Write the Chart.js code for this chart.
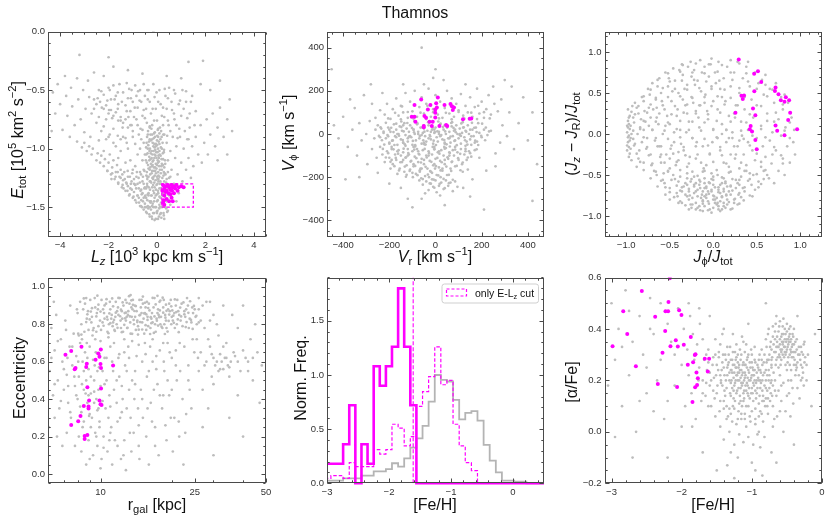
<!DOCTYPE html>
<html><head><meta charset="utf-8">
<script src="https://cdn.jsdelivr.net/npm/chart.js@4.4.1/dist/chart.umd.min.js"></script>
<style>
html,body{margin:0;padding:0;background:#fff;}
#wrap{position:relative;width:830px;height:520px;overflow:hidden;}
#wrap canvas{position:absolute;left:0;top:0;}
</style></head><body><div id="wrap"></div>
<script>
// ---------------- DATA ----------------
// Panel 1: E_tot [1e5 km2/s2] vs Lz [1e3 kpc km/s]
const p1Core = [[-0.12,-0.87],[0.05,-0.9],[-0.3,-0.92],[-0.18,-0.95],[0.1,-0.96],[-0.05,-0.98],[-0.38,-1.0],[0.2,-1.0],[-0.22,-1.02],[0.02,-1.03],[-0.1,-1.05],[0.15,-1.06],[-0.32,-1.07],[-0.02,-1.08],[0.25,-1.09],[-0.15,-1.1],[0.08,-1.11],[-0.42,-1.12],[-0.25,-1.13],[0.0,-1.14],[0.18,-1.15],[-0.08,-1.16],[-0.35,-1.17],[0.12,-1.18],[-0.2,-1.19],[0.28,-1.2],[-0.04,-1.21],[-0.28,-1.22],[0.06,-1.23],[-0.14,-1.24],[0.22,-1.25],[-0.4,-1.26],[-0.06,-1.27],[0.14,-1.28],[-0.24,-1.29],[0.02,-1.3],[-0.16,-1.31],[0.26,-1.32],[-0.34,-1.33],[0.1,-1.34],[-0.2,-0.88],[0.0,-0.93],[-0.1,-0.99],[0.1,-1.02],[-0.26,-1.04],[-0.06,-1.06],[0.04,-1.12],[-0.18,-1.14],[-0.12,-1.19],[0.16,-1.21],[-0.32,-1.1],[-0.02,-1.17],[0.2,-1.13],[-0.36,-0.97],[0.14,-0.92],[-0.08,-0.9],[-0.28,-1.16],[0.06,-1.26],[-0.1,-1.33],[-0.22,-1.08],[0.24,-1.04],[-0.14,-1.02],[0.0,-1.24],[-0.3,-1.28],[0.12,-1.3],[-0.44,-1.05],[0.3,-1.16],[-0.04,-0.96],[-0.16,-1.26],[0.08,-1.08]];
const p1Core2 = [[-0.37,-0.85],[-0.23,-0.83],[-0.09,-0.86],[0.03,-0.84],[0.17,-0.85],[-0.3,-0.82],[0.1,-0.87],[-0.41,-0.9],[-0.27,-0.88],[-0.13,-0.91],[0.01,-0.89],[0.19,-0.9],[-0.2,-0.92],[0.26,-0.88],[-0.43,-0.95],[-0.25,-0.93],[-0.11,-0.96],[0.07,-0.94],[0.23,-0.95],[-0.33,-0.94],[0.0,-0.97],[-0.45,-0.99],[-0.29,-1.0],[-0.15,-0.98],[0.04,-1.0],[0.16,-0.99],[0.29,-1.01],[-0.07,-1.01],[-0.39,-1.04],[-0.19,-1.05],[-0.03,-1.03],[0.11,-1.05],[0.28,-1.03],[-0.31,-1.02],[0.06,-1.06],[-0.46,-1.1],[-0.27,-1.09],[-0.11,-1.08],[0.03,-1.1],[0.19,-1.09],[0.33,-1.1],[-0.18,-1.11],[-0.37,-1.14],[-0.21,-1.15],[-0.05,-1.13],[0.09,-1.15],[0.25,-1.14],[-0.13,-1.16],[0.34,-1.13],[-0.42,-1.2],[-0.3,-1.18],[-0.07,-1.19],[0.05,-1.2],[0.2,-1.18],[-0.22,-1.21],[0.32,-1.21],[-0.35,-1.24],[-0.19,-1.25],[-0.09,-1.23],[0.1,-1.24],[0.27,-1.23],[0.02,-1.26],[-0.44,-1.23],[-0.41,-1.3],[-0.27,-1.28],[-0.11,-1.29],[0.06,-1.28],[0.18,-1.3],[-0.02,-1.31],[0.3,-1.28],[-0.45,-1.34],[-0.29,-1.35],[-0.2,-1.33],[-0.04,-1.35],[0.16,-1.34],[0.04,-1.36],[0.3,-1.35],[-0.38,-1.39],[-0.24,-1.4],[-0.12,-1.38],[0.0,-1.39],[0.1,-1.41],[0.24,-1.38],[-0.48,-1.4]];
const p1Wedge = [[-3.3,-0.94],[-3.1,-0.99],[-3.0,-0.95],[-2.9,-1.02],[-2.8,-0.98],[-2.7,-1.05],[-2.65,-1.0],[-2.5,-1.1],[-2.45,-1.04],[-2.35,-1.12],[-2.3,-1.06],[-2.2,-1.15],[-2.15,-1.09],[-2.05,-1.19],[-2.0,-1.12],[-1.95,-1.05],[-1.9,-1.22],[-1.85,-1.16],[-1.8,-1.1],[-1.75,-1.26],[-1.7,-1.2],[-1.65,-1.14],[-1.6,-1.3],[-1.55,-1.24],[-1.5,-1.18],[-1.45,-1.33],[-1.4,-1.27],[-1.35,-1.2],[-1.3,-1.36],[-1.25,-1.3],[-1.2,-1.24],[-1.15,-1.4],[-1.1,-1.34],[-1.05,-1.28],[-1.0,-1.42],[-1.0,-1.18],[-0.95,-1.37],[-0.9,-1.31],[-0.85,-1.46],[-0.85,-1.24],[-0.8,-1.4],[-0.75,-1.34],[-0.7,-1.49],[-0.7,-1.2],[-0.65,-1.44],[-0.6,-1.38],[-0.6,-1.28],[-0.55,-1.52],[-0.5,-1.47],[-0.5,-1.33],[-0.45,-1.42],[-0.42,-1.55],[-0.4,-1.24],[-0.38,-1.49],[-0.35,-1.38],[-0.3,-1.58],[-0.3,-1.45],[-0.25,-1.52],[-0.22,-1.4],[-0.2,-1.6],[-0.18,-1.47],[-0.12,-1.55],[-0.1,-1.42],[-0.08,-1.5],[-0.05,-1.6],[0.0,-1.45],[0.02,-1.53],[0.05,-1.38],[0.08,-1.58],[0.1,-1.48],[0.14,-1.42],[0.16,-1.55],[0.2,-1.5],[0.25,-1.44],[0.28,-1.57],[0.32,-1.37],[0.35,-1.5],[0.4,-1.45],[0.45,-1.53],[0.5,-1.4],[0.55,-1.48],[0.6,-1.35],[-1.3,-1.12],[-0.9,-1.15],[-1.6,-1.08],[-2.2,-1.02],[-0.55,-1.18],[-1.1,-1.1],[-0.15,-1.36],[-0.62,-1.5],[-0.95,-1.3],[-0.75,-1.42],[-0.55,-1.42],[-0.45,-1.5],[-0.3,-1.5],[-0.15,-1.5],[0.0,-1.55],[0.12,-1.5],[-0.25,-1.45],[-0.65,-1.35],[-0.8,-1.3],[-1.2,-1.32],[-0.4,-1.32],[-0.05,-1.4],[0.22,-1.4]];
const p1Wedge2 = [[-2.05,-1.19],[-1.85,-1.21],[-1.62,-1.2],[-1.43,-1.22],[-1.21,-1.19],[-1.02,-1.21],[-0.83,-1.2],[-0.66,-1.22],[-0.52,-1.19],[0.45,-1.2],[-1.88,-1.26],[-1.71,-1.24],[-1.5,-1.25],[-1.33,-1.26],[-1.12,-1.24],[-0.95,-1.26],[-0.76,-1.25],[-0.58,-1.24],[0.4,-1.26],[0.55,-1.24],[-1.6,-1.29],[-1.42,-1.31],[-1.27,-1.29],[-1.08,-1.3],[-0.9,-1.31],[-0.71,-1.29],[-0.55,-1.3],[0.38,-1.29],[0.52,-1.31],[-1.38,-1.34],[-1.22,-1.36],[-1.04,-1.35],[-0.86,-1.34],[-0.68,-1.36],[-0.52,-1.34],[0.36,-1.35],[0.48,-1.34],[0.62,-1.36],[-1.13,-1.39],[-0.97,-1.41],[-0.81,-1.4],[-0.63,-1.39],[-0.5,-1.41],[-0.35,-1.4],[0.33,-1.41],[0.45,-1.39],[0.58,-1.4],[-0.9,-1.44],[-0.74,-1.46],[-0.58,-1.45],[-0.4,-1.44],[-0.27,-1.46],[-0.12,-1.45],[0.03,-1.44],[0.17,-1.46],[0.3,-1.45],[0.43,-1.44],[-0.66,-1.49],[-0.5,-1.5],[-0.36,-1.51],[-0.2,-1.49],[-0.04,-1.5],[0.09,-1.51],[0.25,-1.49],[0.38,-1.51],[-0.45,-1.54],[-0.32,-1.56],[-0.16,-1.55],[-0.01,-1.54],[0.13,-1.56],[0.27,-1.55],[0.42,-1.54],[-0.22,-1.58],[-0.1,-1.61],[0.04,-1.6],[0.18,-1.59],[0.3,-1.6]];
const p1Mid = [[-2.8,-0.56],[-2.6,-0.58],[-2.5,-0.62],[-2.35,-0.6],[-2.2,-0.66],[-2.1,-0.63],[-2.0,-0.7],[-1.9,-0.67],[-1.8,-0.72],[-1.7,-0.69],[-1.6,-0.76],[-1.5,-0.73],[-1.4,-0.78],[-1.3,-0.75],[-1.2,-0.82],[-1.1,-0.8],[-1.0,-0.85],[-2.4,-0.5],[-2.2,-0.54],[-2.0,-0.48],[-1.9,-0.58],[-1.8,-0.46],[-1.7,-0.55],[-1.6,-0.62],[-1.55,-0.45],[-1.4,-0.52],[-1.3,-0.63],[-1.25,-0.44],[-1.2,-0.57],[-1.1,-0.68],[-1.05,-0.5],[-1.0,-0.6],[-0.95,-0.73],[-0.9,-0.46],[-0.85,-0.55],[-0.8,-0.65],[-0.8,-0.8],[-0.75,-0.88],[-0.7,-0.5],[-0.65,-0.6],[-0.6,-0.72],[-0.6,-0.84],[-0.55,-0.45],[-0.5,-0.55],[-0.45,-0.66],[-0.42,-0.78],[-0.38,-0.88],[-0.35,-0.5],[-0.3,-0.6],[-0.25,-0.7],[-0.2,-0.8],[-0.15,-0.45],[-0.1,-0.56],[-0.05,-0.66],[0.0,-0.76],[0.05,-0.83],[0.1,-0.5],[0.15,-0.62],[0.2,-0.72],[0.25,-0.8],[0.3,-0.88],[0.35,-0.55],[0.4,-0.66],[0.45,-0.76],[0.5,-0.48],[0.55,-0.85],[0.6,-0.6],[0.7,-0.7],[0.75,-0.53],[0.8,-0.8],[0.9,-0.62],[1.0,-0.72],[1.05,-0.5],[1.15,-0.85],[1.2,-0.6],[1.35,-0.7],[1.45,-0.55],[1.55,-0.8],[-2.5,-0.78],[-2.3,-0.85],[-1.95,-0.88],[-1.5,-0.92],[-1.25,-0.95],[-2.7,-0.7],[-1.7,-0.98],[-0.7,-1.0],[-0.55,-0.95],[-0.8,-1.05],[-0.6,-1.1],[-1.2,-1.0],[-1.5,-1.02],[-0.5,-1.05],[-0.9,-0.96],[-1.4,-0.9],[-1.8,-0.95],[-2.1,-0.92],[-2.4,-0.93]];
const p1Mid2 = [[-2.3,-0.51],[-1.95,-0.5],[-1.62,-0.52],[-1.15,-0.49],[-0.78,-0.51],[-0.4,-0.5],[-0.02,-0.52],[0.32,-0.49],[0.7,-0.5],[1.2,-0.51],[-2.45,-0.57],[-2.05,-0.59],[-1.75,-0.58],[-1.45,-0.6],[-1.08,-0.57],[-0.72,-0.59],[-0.38,-0.58],[0.05,-0.6],[0.45,-0.57],[0.95,-0.59],[1.4,-0.6],[-2.6,-0.66],[-2.28,-0.65],[-1.98,-0.67],[-1.62,-0.66],[-1.25,-0.68],[-0.92,-0.65],[-0.55,-0.67],[-0.18,-0.66],[0.25,-0.65],[0.62,-0.67],[1.1,-0.66],[1.6,-0.68],[-2.4,-0.73],[-2.1,-0.75],[-1.85,-0.74],[-1.5,-0.76],[-1.18,-0.73],[-0.85,-0.75],[-0.5,-0.74],[-0.12,-0.76],[0.3,-0.73],[0.72,-0.75],[1.25,-0.74],[-2.2,-0.81],[-1.8,-0.83],[-1.42,-0.82],[-1.05,-0.8],[-0.68,-0.83],[-0.3,-0.81],[0.12,-0.82],[0.48,-0.8],[0.92,-0.83],[1.35,-0.82],[-2.0,-0.9],[-1.62,-0.89],[-1.3,-0.91],[-1.0,-0.9],[-0.65,-0.92],[0.42,-0.89],[0.85,-0.91],[1.3,-0.92]];
const p1Right = [[0.4,-0.95],[0.45,-1.1],[0.5,-1.25],[0.55,-1.02],[0.6,-1.18],[0.65,-0.9],[0.7,-1.3],[0.75,-1.08],[0.8,-0.98],[0.85,-1.22],[0.9,-1.38],[0.95,-0.9],[1.0,-1.12],[1.05,-1.28],[1.1,-1.0],[1.2,-1.18],[1.25,-0.92],[1.3,-1.08],[1.4,-1.25],[1.45,-0.98],[1.5,-1.15],[1.6,-0.9],[1.7,-1.05],[1.8,-0.8],[1.85,-1.12],[1.95,-0.95],[2.05,-0.75],[2.1,-1.05],[2.2,-0.88],[2.3,-0.7],[2.4,-0.98],[2.5,-0.82],[2.6,-0.65],[2.75,-0.9],[2.9,-0.75],[0.35,-1.22],[0.42,-1.33],[0.62,-1.42],[0.8,-1.45]];
const p1Halo = [[-4.3,-0.52],[-4.2,-0.7],[-4.1,-0.45],[-4.0,-0.62],[-3.9,-0.84],[-3.8,-0.38],[-3.75,-0.55],[-3.7,-0.72],[-3.6,-0.9],[-3.55,-0.48],[-3.5,-0.64],[-3.4,-0.8],[-3.3,-0.4],[-3.25,-0.58],[-3.2,-0.2],[-3.15,-0.75],[-3.05,-0.5],[-3.0,-0.86],[-2.95,-0.66],[-2.85,-0.42],[-2.75,-0.9],[-2.6,-0.35],[-2.2,-0.38],[-1.8,-0.3],[-1.2,-0.33],[-0.6,-0.36],[-0.15,0.0],[0.4,-0.38],[1.0,-0.4],[1.3,-0.26],[1.8,-0.45],[2.2,-0.5],[2.6,-0.42],[3.0,-0.58],[3.1,-0.85],[2.9,-1.05],[2.5,-1.1],[-4.35,-0.85],[1.9,-0.25],[-2.0,-0.22]];
const p1Sel = [[0.25,-1.31],[0.3,-1.34],[0.35,-1.32],[0.4,-1.36],[0.45,-1.31],[0.5,-1.33],[0.55,-1.35],[0.6,-1.31],[0.65,-1.33],[0.7,-1.32],[0.75,-1.34],[0.8,-1.31],[0.9,-1.33],[1.0,-1.32],[1.1,-1.33],[0.3,-1.4],[0.4,-1.43],[0.55,-1.39],[0.6,-1.42],[0.7,-1.38],[0.25,-1.46],[0.3,-1.48],[0.5,-1.45],[0.65,-1.45],[0.35,-1.37],[0.48,-1.38],[0.85,-1.36],[0.22,-1.36],[0.28,-1.44],[0.62,-1.36]];
const p1BoxLz = [0.2, 1.5];
const p1BoxE = [-1.5, -1.3];

// Panel 2: V_phi vs V_r [km/s]
const p2Band = [[-225,5],[-215,-20],[-205,30],[-200,-45],[-195,10],[-185,-30],[-180,45],[-175,-10],[-170,20],[-165,-50],[-160,0],[-155,35],[-150,-25],[-145,15],[-140,-40],[-135,50],[-130,-5],[-125,25],[-120,-35],[-115,10],[-110,40],[-105,-15],[-100,-50],[-95,20],[-90,0],[-85,-30],[-80,45],[-75,10],[-70,-20],[-65,30],[-60,-45],[-55,5],[-50,25],[-45,-10],[-40,-35],[-35,15],[-30,40],[-25,-5],[-20,-25],[-15,20],[-10,-45],[-5,5],[0,30],[5,-15],[10,-35],[15,10],[20,45],[25,-5],[30,-25],[35,20],[40,-45],[45,0],[50,30],[55,-20],[60,10],[65,-40],[70,35],[75,-10],[80,15],[85,-30],[90,40],[95,0],[100,-20],[105,25],[110,-45],[115,5],[120,30],[125,-15],[130,15],[135,-35],[140,40],[145,0],[150,-25],[160,20],[165,-10],[175,30],[180,-35],[190,5],[200,-15],[210,20],[-240,-15],[-235,25],[-190,-60],[-148,58],[-88,-58],[-32,55],[12,58],[62,-58],[118,55],[185,50],[-250,40],[225,-5],[240,15],[-60,-5],[-20,10],[20,-10],[-110,-10],[105,-5],[-170,-15],[-12,-60],[38,-60],[-130,-55],[155,-50],[8,12],[-48,-48],[-208,-5],[72,55],[-92,60],[130,-55]];
const p2Dense = [[-215,52],[-170,48],[-122,51],[-78,49],[-28,52],[22,48],[68,51],[112,49],[158,52],[202,48],[-238,31],[-192,29],[-148,32],[-102,28],[-58,31],[-12,29],[32,32],[78,28],[122,31],[168,29],[218,30],[-225,11],[-182,9],[-138,12],[-93,8],[-48,11],[-3,9],[42,12],[88,8],[133,11],[178,9],[232,12],[-245,-9],[-205,-11],[-158,-8],[-115,-12],[-68,-9],[-23,-11],[22,-8],[65,-12],[110,-9],[155,-11],[198,-8],[-232,-29],[-188,-31],[-142,-28],[-98,-32],[-53,-29],[-8,-31],[38,-28],[82,-32],[128,-29],[172,-31],[215,-29],[-222,-49],[-178,-51],[-133,-48],[-88,-52],[-43,-49],[2,-51],[48,-48],[92,-52],[138,-49],[185,-51],[-228,-69],[-182,-71],[-138,-68],[-92,-72],[-47,-69],[-5,-71],[40,-68],[85,-72],[130,-69],[178,-71],[-205,-89],[-162,-91],[-118,-88],[-73,-92],[-28,-89],[17,-91],[62,-88],[107,-92],[150,-89],[-215,-109],[-172,-111],[-128,-108],[-83,-112],[-38,-109],[8,-111],[52,-108],[98,-112],[140,-109],[-195,-129],[-152,-131],[-108,-128],[-63,-132],[-18,-129],[27,-131],[72,-128],[118,-132],[-178,-149],[-133,-151],[-88,-148],[-43,-152],[2,-149],[47,-151],[92,-148],[-158,-169],[-112,-171],[-68,-168],[-23,-172],[22,-169],[68,-171],[108,-168],[-125,-189],[-78,-191],[-33,-188],[12,-192],[58,-189],[-55,-209],[-8,-211],[35,-208],[75,-212],[-25,-229],[18,-231],[58,-228],[-5,-249],[40,-251],[-205,72],[-150,68],[-95,71],[-40,69],[15,72],[70,68],[125,71],[180,69],[235,72],[-175,98],[-120,102],[-65,99],[-10,101],[45,98],[100,102],[155,99],[210,101],[-145,128],[-35,131],[75,128],[185,131],[-140,40],[-95,20],[-50,40],[-5,20],[40,40],[85,20],[-165,0],[-120,-20],[-75,0],[-30,-20],[15,0],[60,-20],[105,0],[-140,-40],[-95,-60],[-50,-40],[-5,-60],[40,-40],[85,-60],[-165,-80],[-120,-100],[-75,-80],[-30,-100],[15,-80],[60,-100],[-140,-120],[-95,-140],[-50,-120],[-5,-140],[40,-120],[-60,-160],[-15,-180],[30,-160],[-100,-180],[-200,20],[150,20],[130,-80],[170,-40],[-190,-120],[-200,-40]];
const p2Low = [[-210,-80],[-200,-110],[-190,-70],[-185,-140],[-175,-95],[-170,-120],[-160,-75],[-155,-160],[-150,-100],[-145,-130],[-140,-85],[-135,-175],[-130,-110],[-125,-145],[-120,-70],[-115,-95],[-110,-165],[-105,-125],[-100,-80],[-95,-150],[-90,-105],[-85,-185],[-80,-70],[-75,-130],[-70,-95],[-65,-160],[-60,-115],[-55,-75],[-50,-140],[-45,-195],[-40,-100],[-35,-160],[-30,-80],[-25,-125],[-20,-175],[-15,-95],[-10,-145],[-5,-70],[0,-115],[5,-190],[10,-85],[15,-155],[20,-125],[25,-75],[30,-170],[35,-100],[40,-140],[45,-65],[50,-190],[55,-115],[60,-85],[65,-160],[70,-130],[75,-75],[80,-100],[85,-150],[95,-85],[100,-120],[110,-70],[115,-140],[125,-95],[135,-120],[145,-80],[155,-105],[170,-75],[-230,-95],[-220,-130],[-195,-160],[-165,-185],[-128,-198],[-98,-200],[-62,-205],[-28,-200],[22,-200],[118,-175],[140,-165],[190,-110],[-240,-60],[-68,-175],[-2,-160]];
const p2Lobe = [[-70,-215],[-55,-235],[-40,-220],[-30,-260],[-20,-230],[-10,-245],[0,-215],[5,-270],[15,-240],[25,-225],[35,-255],[45,-215],[55,-240],[65,-225],[75,-265],[85,-220],[-45,-275],[20,-285],[95,-245],[-15,-210]];
const p2Up = [[-260,75],[-240,110],[-220,90],[-210,140],[-195,70],[-185,115],[-170,165],[-160,85],[-150,130],[-140,100],[-130,190],[-120,75],[-110,150],[-100,105],[-90,200],[-80,80],[-70,125],[-60,170],[-50,95],[-40,140],[-30,210],[-20,80],[-10,115],[0,180],[10,90],[20,150],[30,75],[40,120],[50,200],[60,95],[70,165],[80,80],[90,140],[100,110],[110,185],[120,85],[130,130],[140,100],[150,170],[160,80],[170,125],[180,210],[190,95],[200,150],[210,75],[220,115],[230,180],[240,90],[255,140],[270,105],[-230,190],[-50,230],[35,250],[130,230],[250,220],[-140,230],[285,160],[-275,140],[0,300],[-10,260]];
const p2Halo = [[-440,40],[-420,-20],[-400,80],[-380,-60],[-360,20],[-350,120],[-340,-100],[-330,50],[-320,-30],[-310,180],[-300,0],[-295,-140],[-285,60],[-275,-70],[-265,-20],[-260,20],[-255,-110],[-280,230],[-330,-200],[-250,-180],[-200,-230],[-150,-250],[-120,-300],[-100,-340],[-60,-300],[40,-330],[120,-250],[160,-210],[220,-170],[260,-90],[280,-40],[290,40],[310,-10],[320,100],[340,-70],[360,50],[380,170],[400,-30],[420,100],[440,-140],[300,250],[330,220],[-390,-210],[210,-350],[-60,400],[-450,300],[150,-290],[260,-150],[-370,160],[420,-310]];
const p2Sel = [[-91,134],[-62,160],[-103,80],[-91,80],[-87,57],[-48,83],[-41,75],[-33,114],[-22,134],[-26,57],[-51,37],[-51,31],[-16,37],[-12,57],[-1,77],[-1,99],[3,142],[6,123],[10,169],[-1,114],[17,37],[39,134],[46,42],[51,37],[65,139],[71,129],[80,123],[75,111],[119,68],[148,71],[155,72]];

// Panel 3: (Jz-JR)/Jtot vs Jphi/Jtot
const p3Edge = [[-0.99,0.02],[-0.98,-0.1],[-0.97,0.12],[-0.99,-0.2],[-0.96,0.22],[-0.98,0.3],[-0.97,-0.28],[-0.95,-0.05],[-0.96,0.06],[-0.98,0.16],[-0.99,-0.14],[-0.95,-0.18],[-0.94,0.27],[-0.97,-0.02],[-0.96,-0.24],[-0.98,0.08],[-0.94,-0.32],[-0.93,0.34],[-0.97,0.2],[-0.95,0.1],[-0.99,0.1],[-0.96,-0.08],[-0.98,-0.04],[-0.94,0.0],[-0.97,-0.16]];
const p3Bottom = [[-0.02,-0.96],[0.08,-0.94],[-0.15,-0.93],[0.2,-0.92],[-0.25,-0.9],[0.0,-0.9],[0.12,-0.88],[-0.1,-0.88],[-0.32,-0.87],[0.28,-0.86],[-0.05,-0.85],[0.05,-0.84],[-0.2,-0.84],[0.18,-0.83],[-0.38,-0.82],[0.35,-0.81],[-0.12,-0.81],[0.02,-0.8],[-0.28,-0.8],[0.25,-0.79],[-0.08,-0.78],[0.1,-0.77],[-0.45,-0.77],[-0.18,-0.76],[0.42,-0.75],[0.0,-0.75],[-0.32,-0.74],[0.15,-0.74],[-0.05,-0.73],[0.3,-0.72],[-0.22,-0.72],[-0.5,-0.71],[0.06,-0.71],[-0.12,-0.7],[0.22,-0.69],[-0.38,-0.69],[0.48,-0.68],[-0.02,-0.68],[-0.28,-0.67],[0.12,-0.67],[-0.15,-0.66],[0.36,-0.65],[-0.55,-0.65],[0.02,-0.65],[-0.08,-0.64],[0.2,-0.63],[-0.42,-0.63],[-0.22,-0.62],[0.08,-0.62],[0.55,-0.61],[-0.32,-0.6],[0.28,-0.6],[-0.05,-0.59],[-0.15,-0.58],[0.14,-0.58],[-0.6,-0.57],[0.4,-0.57],[-0.48,-0.56],[0.0,-0.56],[-0.25,-0.55],[0.22,-0.55],[-0.1,-0.54],[0.1,-0.53],[-0.38,-0.52],[0.32,-0.52],[-0.18,-0.51],[0.05,-0.5],[-0.65,-0.5],[0.5,-0.49],[-0.3,-0.48],[-0.02,-0.48],[0.18,-0.47],[-0.52,-0.46],[-0.12,-0.46],[0.38,-0.45],[-0.06,-0.82],[0.04,-0.86],[-0.14,-0.78],[0.08,-0.72],[-0.1,-0.66],[0.16,-0.8],[-0.24,-0.86],[0.14,-0.9],[-0.2,-0.7],[0.0,-0.62],[-0.34,-0.64],[0.26,-0.66],[-0.04,-0.92],[-0.16,-0.62],[0.1,-0.6],[-0.26,-0.58],[0.04,-0.78],[-0.08,-0.74],[0.2,-0.74],[-0.3,-0.76],[0.32,-0.77],[-0.42,-0.72],[0.44,-0.62],[-0.22,-0.52],[0.12,-0.7],[-0.02,-0.7],[0.24,-0.84],[-0.36,-0.84],[0.06,-0.92],[-0.12,-0.94],[0.3,-0.56],[-0.56,-0.6],[0.58,-0.55],[-0.46,-0.5],[0.46,-0.5],[-0.18,-0.9],[0.36,-0.7],[-0.4,-0.58],[0.0,-0.52],[0.16,-0.64],[-0.28,-0.7],[-0.1,-0.6],[0.08,-0.82],[-0.5,-0.8]];
const p3Left = [[-0.9,0.38],[-0.88,-0.4],[-0.86,0.25],[-0.85,-0.2],[-0.84,0.08],[-0.82,0.45],[-0.8,-0.35],[-0.78,0.15],[-0.76,-0.05],[-0.75,0.55],[-0.74,0.32],[-0.72,-0.25],[-0.7,0.62],[-0.7,0.05],[-0.68,-0.45],[-0.66,0.42],[-0.65,0.2],[-0.64,-0.15],[-0.62,0.68],[-0.6,0.5],[-0.6,-0.35],[-0.58,0.0],[-0.56,0.3],[-0.55,0.75],[-0.54,-0.25],[-0.52,0.58],[-0.5,0.12],[-0.5,-0.42],[-0.48,0.4],[-0.46,0.8],[-0.45,-0.1],[-0.44,0.65],[-0.42,0.22],[-0.4,-0.32],[-0.4,0.5],[-0.38,0.05],[-0.36,0.85],[-0.35,0.72],[-0.34,-0.2],[-0.32,0.35],[-0.3,0.6],[-0.3,-0.4],[-0.28,0.15],[-0.26,0.88],[-0.25,0.45],[-0.24,-0.05],[-0.22,0.78],[-0.2,0.28],[-0.2,-0.3],[-0.18,0.65],[-0.16,0.08],[-0.15,0.9],[-0.14,0.52],[-0.12,-0.15],[-0.1,0.38],[-0.1,0.82],[-0.08,-0.38],[-0.06,0.18],[-0.05,0.7],[-0.04,-0.25],[-0.02,0.58],[-0.02,0.92],[0.0,0.05],[0.0,0.4],[-0.92,0.2],[-0.9,-0.12],[-0.88,0.32],[-0.87,0.0],[-0.86,-0.3],[-0.83,0.18],[-0.82,-0.1],[-0.8,0.4],[-0.79,0.28],[-0.77,-0.18],[-0.74,0.1],[-0.73,0.48],[-0.71,-0.38],[-0.69,0.3],[-0.67,-0.08],[-0.64,0.58],[-0.63,0.12],[-0.61,-0.28],[-0.59,0.4],[-0.57,-0.48],[-0.53,0.22],[-0.51,0.68],[-0.49,-0.18],[-0.47,0.52],[-0.43,-0.38],[-0.41,0.3],[-0.39,0.78],[-0.37,-0.12],[-0.33,0.55],[-0.31,0.02],[-0.29,0.82],[-0.27,-0.28],[-0.23,0.38],[-0.21,0.6],[-0.19,-0.1],[-0.17,0.2],[-0.13,0.75],[-0.11,-0.42],[-0.09,0.48],[-0.07,0.28],[-0.03,0.85],[-0.01,-0.1],[-0.55,0.1],[-0.65,0.32],[-0.45,0.02],[-0.35,0.42],[-0.25,0.7],[-0.15,0.35],[-0.72,0.2],[-0.8,0.05],[-0.5,-0.3],[-0.6,-0.15],[-0.4,-0.22],[-0.3,0.25]];
const p3Disc = [[-0.35,0.84],[-0.2,0.86],[-0.05,0.85],[0.1,0.84],[0.3,0.86],[-0.52,0.74],[-0.38,0.76],[-0.24,0.75],[-0.1,0.74],[0.05,0.76],[0.2,0.75],[0.38,0.74],[-0.64,0.66],[-0.5,0.64],[-0.36,0.65],[-0.22,0.66],[-0.08,0.64],[0.07,0.65],[0.22,0.66],[0.4,0.64],[0.56,0.66],[-0.72,0.54],[-0.58,0.56],[-0.44,0.55],[-0.3,0.54],[-0.16,0.56],[-0.02,0.55],[0.13,0.54],[0.3,0.56],[0.5,0.55],[0.68,0.54],[-0.8,0.46],[-0.66,0.44],[-0.52,0.45],[-0.38,0.46],[-0.24,0.44],[-0.1,0.45],[0.05,0.46],[0.2,0.44],[0.36,0.45],[0.62,0.46],[-0.86,0.34],[-0.72,0.36],[-0.58,0.35],[-0.44,0.34],[-0.3,0.36],[-0.16,0.35],[-0.02,0.34],[0.13,0.36],[0.28,0.35],[0.55,0.34],[0.8,0.36],[-0.9,0.24],[-0.76,0.26],[-0.62,0.25],[-0.48,0.24],[-0.34,0.26],[-0.2,0.25],[-0.06,0.24],[0.08,0.26],[0.24,0.25],[0.42,0.24],[0.72,0.26],[-0.91,0.14],[-0.8,0.16],[-0.66,0.15],[-0.52,0.14],[-0.38,0.16],[-0.24,0.15],[-0.1,0.14],[0.04,0.16],[0.2,0.15],[0.38,0.14],[0.62,0.16],[0.88,0.14],[-0.92,0.04],[-0.84,0.06],[-0.7,0.05],[-0.56,0.04],[-0.42,0.06],[-0.28,0.05],[-0.14,0.04],[0.0,0.06],[0.15,0.05],[0.32,0.04],[0.55,0.06],[0.82,0.04],[-0.92,-0.06],[-0.8,-0.04],[-0.66,-0.05],[-0.52,-0.06],[-0.38,-0.04],[-0.24,-0.05],[-0.1,-0.06],[0.04,-0.04],[0.18,-0.05],[0.35,-0.06],[0.6,-0.04],[0.88,-0.05],[-0.91,-0.14],[-0.76,-0.16],[-0.62,-0.15],[-0.48,-0.14],[-0.34,-0.16],[-0.2,-0.15],[-0.06,-0.14],[0.08,-0.16],[0.24,-0.15],[0.42,-0.14],[0.7,-0.16],[-0.88,-0.24],[-0.74,-0.26],[-0.6,-0.25],[-0.46,-0.24],[-0.32,-0.26],[-0.18,-0.25],[-0.04,-0.24],[0.1,-0.26],[0.26,-0.25],[0.5,-0.24],[0.78,-0.26],[-0.84,-0.34],[-0.7,-0.36],[-0.56,-0.35],[-0.42,-0.34],[-0.28,-0.36],[-0.14,-0.35],[0.0,-0.34],[0.15,-0.36],[0.32,-0.35],[0.55,-0.34],[0.8,-0.36],[-0.8,-0.44],[-0.66,-0.46],[-0.52,-0.45],[-0.38,-0.44],[-0.24,-0.46],[-0.1,-0.45],[0.04,-0.44],[0.2,-0.46],[0.36,-0.45],[0.6,-0.44],[-0.72,-0.54],[-0.58,-0.56],[-0.44,-0.55],[-0.3,-0.54],[-0.16,-0.56],[-0.02,-0.55],[0.12,-0.54],[0.26,-0.56],[0.42,-0.55],[0.64,-0.54],[-0.64,-0.64],[-0.5,-0.66],[-0.36,-0.65],[-0.22,-0.64],[-0.08,-0.66],[0.06,-0.65],[0.2,-0.64],[0.34,-0.66],[0.52,-0.65],[-0.55,-0.74],[-0.41,-0.76],[-0.27,-0.75],[-0.13,-0.74],[0.01,-0.76],[0.15,-0.75],[0.29,-0.74],[0.45,-0.76],[-0.4,-0.84],[-0.26,-0.86],[-0.12,-0.85],[0.02,-0.84],[0.16,-0.86],[0.3,-0.85],[-0.2,-0.92],[-0.06,-0.93],[0.1,-0.92],[0.22,-0.91],[-0.3,-0.62],[-0.18,-0.68],[-0.06,-0.7],[0.06,-0.68],[0.18,-0.7],[-0.24,-0.78],[-0.12,-0.82],[0.0,-0.8],[0.12,-0.84],[0.24,-0.8],[-0.36,-0.7],[0.3,-0.62],[-0.16,-0.88],[0.06,-0.88],[-0.04,-0.6],[0.1,-0.76],[-0.2,-0.6],[0.14,-0.6],[-0.1,-0.76],[-0.28,-0.92]];
const p3UpRight = [[0.02,0.75],[0.05,0.3],[0.06,0.88],[0.08,0.55],[0.1,0.12],[0.12,0.68],[0.14,0.4],[0.16,0.82],[0.18,0.22],[0.2,0.58],[0.22,0.02],[0.24,0.75],[0.26,0.35],[0.28,0.88],[0.3,0.5],[0.32,0.15],[0.34,0.68],[0.36,0.3],[0.38,0.82],[0.4,0.05],[0.42,0.58],[0.44,0.42],[0.46,0.2],[0.48,0.75],[0.5,0.35],[0.52,0.62],[0.55,0.1],[0.58,0.48],[0.6,0.72],[0.62,0.25],[0.65,0.55],[0.68,0.02],[0.7,0.38],[0.72,0.62],[0.75,0.18],[0.78,0.45],[0.8,0.3],[0.83,0.08],[0.86,0.38],[0.9,0.2],[0.93,0.05],[0.1,0.45],[0.2,0.9],[0.4,0.88],[0.03,0.62],[0.15,0.05],[0.25,0.2],[0.6,0.6],[0.82,0.48],[0.7,0.15]];
const p3LowRight = [[0.22,-0.05],[0.25,-0.3],[0.28,-0.15],[0.3,-0.42],[0.33,-0.02],[0.35,-0.25],[0.38,-0.38],[0.4,-0.1],[0.42,-0.48],[0.45,-0.2],[0.48,-0.32],[0.5,-0.05],[0.52,-0.58],[0.55,-0.4],[0.57,-0.15],[0.6,-0.28],[0.62,-0.5],[0.65,-0.08],[0.67,-0.36],[0.7,-0.6],[0.72,-0.2],[0.75,-0.45],[0.78,-0.02],[0.8,-0.3],[0.82,-0.5],[0.85,-0.15],[0.88,-0.35],[0.92,-0.1],[0.94,-0.25],[0.3,-0.08],[0.45,-0.02],[0.58,-0.45],[0.68,-0.25],[0.08,-0.2],[0.12,-0.35],[0.15,-0.1],[0.05,-0.05],[0.18,-0.4],[0.1,0.0],[0.2,-0.25]];
const p3Sel = [[0.293,0.909],[0.47,0.735],[0.514,0.764],[0.552,0.634],[0.472,0.521],[0.716,0.566],[0.709,0.525],[0.75,0.485],[0.777,0.412],[0.819,0.392],[0.834,0.448],[0.872,0.412],[0.884,0.259],[0.861,0.17],[0.964,0.057],[0.819,-0.016],[0.735,0.04],[0.716,0.105],[0.43,0.097],[0.42,0.057],[0.446,0.032],[0.484,-0.073],[0.5,-0.186],[0.255,0.259],[0.324,0.465],[0.354,0.469],[0.339,0.428],[0.457,0.311],[0.484,0.23]];

// Panel 4: eccentricity vs r_gal [kpc]
const p4Band = [[8.0,0.86],[8.3,0.8],[8.6,0.91],[8.9,0.77],[9.2,0.84],[9.5,0.89],[9.8,0.79],[10.1,0.93],[10.4,0.83],[10.7,0.76],[11.0,0.88],[11.3,0.81],[11.6,0.92],[11.9,0.85],[12.2,0.78],[12.5,0.9],[12.8,0.82],[13.1,0.87],[13.4,0.75],[13.7,0.93],[14.0,0.84],[14.4,0.79],[14.8,0.89],[15.2,0.83],[15.6,0.77],[16.0,0.91],[16.5,0.86],[17.0,0.8],[17.5,0.88],[18.0,0.84],[18.5,0.93],[19.0,0.78],[19.6,0.87],[20.2,0.82],[20.8,0.9],[21.5,0.85],[22.2,0.79],[23.0,0.88],[23.8,0.83],[24.6,0.86],[25.5,0.8],[8.1,0.74],[8.45,0.88],[8.75,0.83],[9.05,0.93],[9.35,0.78],[9.65,0.86],[9.95,0.82],[10.25,0.88],[10.55,0.91],[10.85,0.8],[11.15,0.85],[11.45,0.77],[11.75,0.87],[12.05,0.94],[12.35,0.83],[12.65,0.86],[12.95,0.78],[13.25,0.91],[13.55,0.84],[13.85,0.8],[14.2,0.87],[14.6,0.93],[15.0,0.81],[15.4,0.86],[15.8,0.84],[16.25,0.78],[16.75,0.89],[17.25,0.83],[17.75,0.92],[18.25,0.78],[18.75,0.85],[19.3,0.88],[19.9,0.8],[20.5,0.86],[21.1,0.93],[21.8,0.82],[22.6,0.87],[23.4,0.9],[24.2,0.81],[25.0,0.88],[8.2,0.92],[8.55,0.76],[8.85,0.87],[9.15,0.81],[9.45,0.94],[9.75,0.88],[10.05,0.77],[10.35,0.86],[10.65,0.84],[10.95,0.92],[11.25,0.79],[11.55,0.84],[11.85,0.89],[12.15,0.82],[12.45,0.76],[12.75,0.93],[13.05,0.85],[13.35,0.81],[13.65,0.88],[13.95,0.9],[14.3,0.82],[14.7,0.85],[15.1,0.91],[15.5,0.89],[15.9,0.79],[16.4,0.83],[16.9,0.94],[17.4,0.86],[17.9,0.8],[18.4,0.89],[18.9,0.82],[19.5,0.91],[20.0,0.84],[20.6,0.78],[21.3,0.87],[22.0,0.91],[22.8,0.84],[23.6,0.78],[24.4,0.89],[25.2,0.84],[11.1,0.83],[11.7,0.8],[12.3,0.87],[12.9,0.84],[13.5,0.89],[14.1,0.77],[14.9,0.86],[15.7,0.92],[16.6,0.81],[17.6,0.85],[18.6,0.8],[19.8,0.93],[10.2,0.81],[9.6,0.76],[8.7,0.94],[13.2,0.95],[15.3,0.75],[17.1,0.76],[21.0,0.8],[23.2,0.94]];
const p4Band2 = [[8.3,0.745],[8.7,0.812],[9.1,0.868],[9.3,0.768],[9.8,0.905],[10.3,0.792],[10.8,0.752],[10.9,0.858],[11.4,0.823],[11.5,0.764],[11.9,0.941],[12.2,0.878],[12.6,0.797],[12.9,0.915],[13.3,0.842],[13.6,0.749],[13.9,0.871],[14.3,0.812],[14.5,0.771],[14.9,0.931],[15.3,0.858],[15.5,0.795],[15.9,0.887],[16.3,0.838],[16.8,0.754],[17.1,0.906],[17.3,0.819],[17.8,0.874],[18.1,0.787],[18.3,0.942],[18.8,0.835],[19.2,0.761],[19.5,0.852],[19.9,0.896],[20.4,0.808],[20.9,0.865],[21.4,0.758],[21.9,0.842],[22.4,0.917],[22.9,0.785],[23.5,0.861],[24.1,0.823],[24.8,0.898],[25.4,0.845],[26.0,0.81],[8.5,0.938],[9.0,0.826],[9.6,0.842],[10.0,0.868],[10.6,0.934],[11.0,0.806],[11.3,0.896],[11.8,0.781],[12.1,0.843],[12.4,0.917],[12.8,0.862],[13.0,0.781],[13.5,0.928],[13.8,0.823],[14.1,0.897],[14.6,0.848],[15.0,0.772],[15.4,0.915],[15.8,0.823],[16.1,0.874],[16.6,0.941],[16.9,0.842],[17.5,0.793],[17.9,0.927],[18.4,0.862],[18.9,0.905],[19.4,0.818],[20.1,0.874],[20.6,0.933],[21.2,0.826],[21.7,0.889],[22.6,0.853],[23.1,0.812],[23.9,0.923],[24.5,0.775],[10.4,0.901],[11.6,0.862],[12.7,0.832],[13.7,0.904],[14.7,0.812],[15.6,0.853],[16.4,0.806],[17.7,0.838],[19.0,0.872],[20.3,0.846],[11.2,0.938],[12.3,0.758],[13.4,0.956],[14.4,0.745],[15.1,0.948],[16.2,0.748],[17.4,0.952],[18.7,0.748],[9.7,0.953],[10.7,0.825],[9.2,0.886],[8.8,0.853]];
const p4Inner = [[6.1,0.55],[6.2,0.78],[6.3,0.42],[6.4,0.66],[6.5,0.85],[6.6,0.5],[6.7,0.35],[6.8,0.72],[6.9,0.6],[7.0,0.45],[7.1,0.82],[7.2,0.53],[7.3,0.38],[7.4,0.68],[7.5,0.3],[7.6,0.58],[7.7,0.75],[7.8,0.47],[7.9,0.63],[8.0,0.4],[8.1,0.52],[8.2,0.7],[8.3,0.33],[8.4,0.6],[8.5,0.45],[8.6,0.65],[8.7,0.5],[8.8,0.38],[8.9,0.56],[9.0,0.68],[9.1,0.43],[9.2,0.3],[9.3,0.61],[9.4,0.5],[9.5,0.72],[9.6,0.4],[9.7,0.55],[9.8,0.35],[9.9,0.64],[10.0,0.47],[7.45,0.9],[6.35,0.92],[7.95,0.88],[6.05,0.25],[6.55,0.2],[8.35,0.48],[7.25,0.62],[8.75,0.7],[9.45,0.58],[8.05,0.75]];
const p4Mid = [[6.2,0.62],[6.4,0.48],[6.6,0.71],[6.8,0.39],[7.0,0.56],[7.15,0.77],[7.3,0.47],[7.45,0.33],[7.6,0.68],[7.75,0.52],[7.9,0.42],[8.05,0.6],[8.2,0.36],[8.35,0.72],[8.5,0.55],[8.65,0.43],[8.8,0.62],[8.95,0.31],[9.1,0.52],[9.25,0.74],[9.4,0.44],[9.55,0.65],[9.7,0.34],[9.85,0.57],[10.0,0.71],[10.2,0.39],[10.4,0.62],[10.6,0.5],[10.8,0.73],[11.0,0.36],[11.2,0.6],[11.4,0.7],[11.7,0.5],[12.0,0.64],[12.3,0.33],[12.6,0.72],[12.9,0.55],[13.2,0.62],[13.6,0.71],[14.0,0.48],[14.5,0.69],[15.0,0.4],[15.5,0.64],[16.0,0.55],[16.6,0.72],[17.2,0.63],[17.8,0.42],[18.5,0.6],[19.2,0.7],[20.0,0.45],[20.8,0.66],[21.7,0.55],[22.6,0.68],[23.5,0.5],[24.5,0.72],[7.2,0.22],[7.8,0.15],[8.4,0.25],[9.0,0.32],[9.6,0.2],[10.3,0.14],[11.0,0.22],[11.8,0.28],[12.6,0.18],[13.5,0.12],[14.5,0.26],[15.8,0.35],[17.0,0.15],[18.4,0.42],[19.8,0.3],[21.5,0.2],[23.0,0.32],[6.4,0.3],[6.9,0.15],[8.9,0.42],[9.9,0.25],[10.9,0.18],[12.2,0.08],[13.8,0.22],[16.5,0.28]];
const p4Low = [[8.1,0.2],[8.3,0.12],[8.5,0.28],[8.7,0.05],[8.9,0.18],[9.1,0.25],[9.3,0.1],[9.5,0.22],[9.7,0.15],[9.9,0.28],[10.1,0.08],[10.3,0.2],[10.5,0.35],[10.7,0.12],[10.9,0.42],[11.1,0.25],[11.3,0.55],[11.5,0.18],[11.7,0.38],[11.9,0.62],[12.1,0.3],[12.3,0.47],[12.5,0.1],[12.7,0.58],[12.9,0.35],[13.1,0.68],[13.3,0.22],[13.6,0.5],[13.9,0.4],[14.2,0.63],[14.5,0.15],[14.8,0.45],[15.1,0.3],[15.4,0.7],[15.7,0.52],[16.0,0.05],[16.3,0.38],[16.6,0.6],[17.0,0.25],[17.4,0.48],[17.8,0.66],[18.2,0.35],[18.6,0.55],[19.0,0.18],[19.5,0.42],[20.0,0.62],[20.5,0.3],[21.0,0.5],[21.6,0.7],[22.2,0.4],[22.8,0.22],[23.5,0.58],[24.2,0.35],[24.9,0.65],[10.2,0.55],[10.6,0.62],[11.0,0.68],[9.8,0.45],[10.4,0.48],[11.4,0.45],[12.0,0.52],[12.6,0.65],[13.2,0.45],[14.0,0.55],[15.0,0.6],[16.2,0.68],[17.2,0.56],[18.4,0.7],[19.6,0.65],[20.8,0.58],[9.0,0.08],[10.0,0.03],[11.2,0.05],[12.8,0.02],[14.6,0.08],[17.6,0.1],[20.2,0.12],[22.4,0.05],[13.4,0.3],[15.6,0.2],[18.8,0.26],[11.8,0.15],[9.4,0.38],[10.8,0.3],[12.4,0.4],[14.4,0.35],[16.8,0.45],[19.2,0.5],[21.4,0.28],[23.8,0.45]];
const p4Outer = [[25.5,0.72],[26,0.55],[26.5,0.65],[27,0.45],[27.5,0.78],[28,0.6],[28.5,0.35],[29,0.68],[29.5,0.52],[30,0.62],[30.5,0.58],[31,0.8],[31.5,0.55],[32,0.64],[32.5,0.6],[33,0.56],[33.5,0.62],[34,0.7],[34.5,0.58],[35,0.52],[35.5,0.6],[36,0.85],[37,0.63],[38,0.42],[39,0.55],[40,0.9],[41,0.62],[42,0.6],[43,0.72],[44,0.5],[45,0.8],[46,0.65],[47,0.38],[48,0.58],[26,0.88],[28,0.92],[30,0.85],[33,0.9],[27,0.25],[35,0.3],[40,0.2],[30,0.1],[38,0.78],[29,0.82],[26.5,0.82],[27.5,0.58],[28.5,0.72],[29.5,0.64],[31,0.6],[32,0.56],[33,0.68],[34,0.62],[35,0.57],[36.5,0.65],[38,0.6],[40,0.66],[42,0.55],[44,0.62],[30,0.48],[27,0.9],[29,0.92],[26,0.94],[25.8,0.62],[31.5,0.74]];
const p4Sel = [[7.11,0.637],[7.52,0.657],[8.31,0.68],[7.84,0.566],[7.78,0.56],[8.7,0.571],[8.75,0.589],[9.53,0.61],[9.78,0.644],[9.9,0.626],[10.03,0.665],[10.0,0.587],[10.05,0.566],[11.3,0.58],[8.8,0.463],[10.05,0.457],[8.95,0.393],[9.9,0.393],[10.0,0.372],[10.1,0.368],[8.9,0.36],[8.9,0.35],[8.5,0.363],[8.23,0.31],[8.05,0.281],[7.52,0.262],[8.8,0.208],[8.57,0.203],[8.57,0.187]];

// Panel 5: [Fe/H] histograms (normalised frequency per bin)
const feEdges = [-3.035,-2.937,-2.838,-2.740,-2.641,-2.543,-2.444,-2.346,-2.247,-2.149,-2.050,-1.952,-1.853,-1.755,-1.656,-1.558,-1.459,-1.361,-1.262,-1.164,-1.065,-0.967,-0.868,-0.770,-0.671,-0.573,-0.474,-0.376,-0.277,-0.179,-0.080,0.019,0.117,0.216,0.314,0.413,0.511];
const histAll = [0.025,0.025,0.025,0.046,0.046,0.046,0.07,0.07,0.11,0.11,0.13,0.185,0.154,0.23,0.33,0.415,0.53,0.754,1.0,0.954,0.94,0.77,0.59,0.65,0.667,0.578,0.354,0.21,0.1,0.025,0.025,0.015,0.015,0,0,0];
const histElz = [0.046,0.07,0.07,0.046,0.19,0.154,0.154,0.154,0.31,0.27,0.31,0.545,0.51,0.345,0.43,0.71,0.846,0.985,1.26,0.91,0.95,0.545,0.345,0.19,0.117,0,0,0,0,0,0,0,0,0,0,0];
const histSel = [0.18,0.18,0.18,0.36,0.72,0,0.36,0.18,1.08,0.9,1.08,1.26,1.8,1.26,0.72,0,0,0,0,0,0,0,0,0,0,0,0,0,0,0,0,0,0,0,0,0];
const feMean = -1.61;

// Panel 6: [alpha/Fe] vs [Fe/H]
const p6Main = [[-1.7,0.2],[-1.68,0.28],[-1.66,0.14],[-1.64,0.24],[-1.62,0.32],[-1.6,0.18],[-1.58,0.1],[-1.56,0.26],[-1.54,0.21],[-1.52,0.3],[-1.5,0.15],[-1.48,0.24],[-1.46,0.08],[-1.45,0.34],[-1.44,0.19],[-1.42,0.27],[-1.4,0.12],[-1.39,0.22],[-1.38,0.3],[-1.36,0.17],[-1.35,0.25],[-1.34,0.06],[-1.32,0.2],[-1.31,0.33],[-1.3,0.14],[-1.29,0.24],[-1.28,0.28],[-1.27,0.1],[-1.26,0.21],[-1.25,0.18],[-1.24,0.31],[-1.23,0.25],[-1.22,0.15],[-1.21,0.22],[-1.2,0.27],[-1.19,0.08],[-1.18,0.2],[-1.17,0.24],[-1.16,0.12],[-1.15,0.3],[-1.14,0.18],[-1.13,0.23],[-1.12,0.35],[-1.11,0.16],[-1.1,0.21],[-1.09,0.26],[-1.08,0.1],[-1.07,0.19],[-1.06,0.29],[-1.05,0.14],[-1.04,0.23],[-1.03,0.06],[-1.02,0.2],[-1.01,0.32],[-1.0,0.17],[-0.99,0.25],[-0.98,0.12],[-0.97,0.22],[-0.96,0.28],[-0.95,0.09],[-0.94,0.19],[-0.93,0.15],[-0.92,0.26],[-0.91,0.21],[-0.9,0.11],[-0.89,0.3],[-0.88,0.17],[-0.87,0.23],[-0.86,0.07],[-0.85,0.2],[-0.84,0.14],[-0.83,0.27],[-0.82,0.18],[-0.81,0.1],[-0.8,0.24],[-0.78,0.16],[-0.76,0.2],[-0.74,0.12],[-0.72,0.26],[-0.7,0.18],[-1.35,0.22],[-1.33,0.27],[-1.3,0.19],[-1.28,0.23],[-1.26,0.16],[-1.25,0.26],[-1.23,0.2],[-1.22,0.29],[-1.2,0.23],[-1.19,0.17],[-1.18,0.26],[-1.16,0.21],[-1.15,0.24],[-1.13,0.19],[-1.12,0.27],[-1.1,0.23],[-1.09,0.18],[-1.07,0.25],[-1.06,0.21],[-1.04,0.17],[-1.03,0.27],[-1.0,0.22],[-0.98,0.19],[-0.96,0.24],[-0.93,0.2],[-1.4,0.25],[-1.42,0.18],[-1.45,0.22],[-1.5,0.26],[-1.55,0.16],[-1.38,0.14],[-1.32,0.09],[-1.24,0.12],[-1.14,0.1],[-1.05,0.3],[-0.95,0.16],[-0.9,0.24],[-0.88,0.2],[-1.17,0.32],[-1.27,0.31],[-1.37,0.28],[-1.47,0.29],[-1.11,0.13],[-1.01,0.15],[-0.85,0.26],[-0.8,0.2],[-0.78,0.22],[-0.75,0.17],[-1.6,0.23],[-1.65,0.19]];
const p6Main2 = [[-1.62,0.27],[-1.58,0.2],[-1.55,0.29],[-1.53,0.13],[-1.51,0.22],[-1.49,0.18],[-1.47,0.31],[-1.45,0.12],[-1.43,0.24],[-1.41,0.3],[-1.39,0.16],[-1.37,0.2],[-1.36,0.1],[-1.34,0.26],[-1.33,0.3],[-1.31,0.15],[-1.3,0.24],[-1.29,0.2],[-1.27,0.26],[-1.26,0.13],[-1.25,0.23],[-1.24,0.19],[-1.23,0.28],[-1.22,0.22],[-1.21,0.16],[-1.2,0.2],[-1.19,0.25],[-1.18,0.23],[-1.17,0.14],[-1.16,0.28],[-1.15,0.19],[-1.14,0.22],[-1.13,0.26],[-1.12,0.15],[-1.11,0.2],[-1.1,0.26],[-1.09,0.22],[-1.08,0.16],[-1.07,0.28],[-1.06,0.18],[-1.05,0.24],[-1.04,0.2],[-1.03,0.13],[-1.02,0.25],[-1.01,0.21],[-1.0,0.27],[-0.99,0.15],[-0.98,0.22],[-0.97,0.18],[-0.96,0.2],[-0.95,0.27],[-0.94,0.13],[-0.93,0.23],[-0.92,0.17],[-0.91,0.25],[-0.9,0.2],[-0.89,0.14],[-0.88,0.24],[-0.87,0.19],[-0.86,0.28],[-0.85,0.16],[-0.84,0.22],[-0.83,0.12],[-0.82,0.23],[-0.8,0.17],[-0.79,0.27],[-0.77,0.13],[-0.75,0.22],[-0.73,0.19],[-0.71,0.14],[-0.69,0.23],[-0.67,0.16],[-1.3,0.28],[-1.2,0.3],[-1.1,0.31],[-1.0,0.3],[-0.9,0.28],[-1.4,0.09],[-1.3,0.07],[-1.2,0.05],[-1.1,0.05],[-1.0,0.08],[-0.9,0.06],[-1.25,0.09],[-1.15,0.07],[-1.05,0.1],[-0.95,0.05],[-1.35,0.33],[-1.22,0.34],[-1.08,0.34],[-0.96,0.33],[-1.52,0.36],[-1.42,0.38],[-1.27,0.38],[-1.14,0.37],[-1.65,0.3],[-1.7,0.15],[-1.75,0.25],[-1.52,0.06],[-1.62,0.1],[-1.18,0.11],[-1.12,0.12],[-1.28,0.17],[-1.16,0.17],[-1.06,0.15],[-0.98,0.24],[-1.22,0.25],[-1.32,0.23],[-1.44,0.2],[-0.76,0.28],[-0.86,0.32]];
const p6Hi = [[-0.82,0.3],[-0.8,0.36],[-0.78,0.28],[-0.76,0.4],[-0.74,0.33],[-0.72,0.25],[-0.7,0.37],[-0.68,0.31],[-0.66,0.42],[-0.65,0.28],[-0.64,0.35],[-0.62,0.39],[-0.61,0.3],[-0.6,0.34],[-0.59,0.26],[-0.58,0.37],[-0.57,0.32],[-0.56,0.41],[-0.55,0.35],[-0.54,0.29],[-0.53,0.33],[-0.52,0.38],[-0.51,0.31],[-0.5,0.36],[-0.49,0.27],[-0.48,0.34],[-0.47,0.4],[-0.46,0.3],[-0.45,0.35],[-0.44,0.24],[-0.43,0.33],[-0.42,0.38],[-0.41,0.29],[-0.4,0.34],[-0.38,0.31],[-0.37,0.26],[-0.36,0.36],[-0.34,0.3],[-0.33,0.22],[-0.31,0.28],[-0.3,0.33],[-0.28,0.25],[-0.27,0.3],[-0.25,0.27],[-0.63,0.33],[-0.57,0.38],[-0.53,0.36],[-0.5,0.32],[-0.47,0.37],[-0.44,0.31],[-0.6,0.29],[-0.67,0.36],[-0.72,0.32],[-0.55,0.44],[-0.65,0.45]];
const p6Hi2 = [[-0.79,0.33],[-0.77,0.38],[-0.75,0.3],[-0.73,0.35],[-0.71,0.29],[-0.69,0.34],[-0.67,0.39],[-0.66,0.31],[-0.64,0.37],[-0.63,0.29],[-0.62,0.33],[-0.61,0.41],[-0.6,0.36],[-0.59,0.32],[-0.58,0.28],[-0.57,0.35],[-0.56,0.3],[-0.55,0.38],[-0.54,0.33],[-0.53,0.4],[-0.52,0.3],[-0.51,0.35],[-0.5,0.39],[-0.49,0.33],[-0.48,0.29],[-0.47,0.35],[-0.46,0.38],[-0.45,0.32],[-0.44,0.36],[-0.43,0.29],[-0.42,0.34],[-0.41,0.37],[-0.4,0.31],[-0.39,0.28],[-0.38,0.35],[-0.36,0.32],[-0.35,0.27],[-0.33,0.33],[-0.32,0.3],[-0.3,0.26],[-0.29,0.31],[-0.27,0.23],[-0.26,0.34],[-0.24,0.29],[-0.7,0.41],[-0.6,0.43],[-0.5,0.42],[-0.45,0.41],[-0.4,0.4],[-0.52,0.26],[-0.62,0.25],[-0.72,0.28],[-0.46,0.26],[-0.56,0.34],[-0.48,0.36],[-0.58,0.31],[-0.53,0.31],[-0.43,0.31],[-0.65,0.33],[-0.37,0.24]];
const p6Rich = [[-0.88,0.08],[-0.84,0.04],[-0.8,0.13],[-0.77,0.07],[-0.73,0.15],[-0.7,0.1],[-0.67,0.2],[-0.64,0.06],[-0.62,0.16],[-0.6,0.22],[-0.58,0.12],[-0.55,0.19],[-0.52,0.08],[-0.5,0.24],[-0.47,0.15],[-0.44,0.2],[-0.41,0.11],[-0.38,0.22],[-0.35,0.17],[-0.32,0.13],[-0.3,0.2],[-0.26,0.18],[-0.22,0.26],[-0.2,0.3],[-0.7,0.02],[-0.76,0.24],[-0.66,0.26],[-0.45,0.06],[-0.55,0.0],[-0.82,-0.02],[-0.85,0.12],[-0.78,0.1],[-0.72,0.2],[-0.65,0.14],[-0.58,0.18],[-0.5,0.14],[-0.42,0.17],[-0.36,0.25],[-0.28,0.21],[-0.25,0.35],[-0.22,0.2],[-0.68,0.05],[-0.6,0.08],[-0.48,0.2],[-0.4,0.26]];
const p6Tail = [[-1.45,0.02],[-1.4,-0.03],[-1.36,0.05],[-1.32,0.0],[-1.28,0.04],[-1.25,-0.05],[-1.22,0.03],[-1.18,-0.01],[-1.15,0.05],[-1.12,-0.04],[-1.08,0.02],[-1.05,-0.02],[-1.02,0.04],[-0.98,-0.05],[-0.95,0.03],[-0.92,-0.01],[-0.88,-0.06],[-1.2,-0.1],[-1.0,-0.12],[-0.9,0.0],[-1.3,-0.08],[-1.1,0.07],[-1.35,-0.13],[-0.95,-0.15],[-0.72,-0.08]];
const p6Poor = [[-3.0,0.5],[-2.95,0.28],[-2.9,0.4],[-2.85,0.1],[-2.8,0.55],[-2.75,0.22],[-2.7,0.35],[-2.65,0.0],[-2.6,0.45],[-2.55,0.3],[-2.5,0.15],[-2.45,0.52],[-2.4,0.38],[-2.35,0.2],[-2.3,0.28],[-2.25,0.05],[-2.2,0.42],[-2.15,0.35],[-2.1,0.18],[-2.05,0.48],[-2.0,0.26],[-1.97,0.4],[-1.95,0.1],[-1.92,0.32],[-1.9,0.22],[-1.88,0.45],[-1.86,0.15],[-1.84,0.38],[-1.82,0.28],[-1.8,0.05],[-1.78,0.34],[-1.76,0.2],[-1.74,0.42],[-1.72,0.12],[-1.7,0.36],[-2.6,0.12],[-2.3,0.5],[-2.1,0.3],[-1.9,0.5],[-2.75,0.47],[-2.5,0.25],[-2.2,0.12],[-2.0,0.02],[-1.85,0.02],[-2.85,0.33],[-2.4,0.08],[-3.05,0.18],[-2.95,-0.02],[-1.75,0.48],[-2.45,0.4]];
const p6Out = [[-2.2,-0.1],[-1.7,-0.08],[-1.5,-0.15],[-1.25,-0.18],[-0.85,-0.17],[-0.65,-0.12],[-0.4,-0.05],[-0.15,0.1],[-0.1,0.38],[-0.35,0.45],[-0.8,0.5],[-1.6,0.45],[-2.7,-0.1],[-1.4,0.4],[-1.05,0.42]];
const p6Sel = [[-2.985,0.333],[-2.833,0.469],[-2.776,0.38],[-2.653,0.255],[-2.568,0.548],[-2.378,0.447],[-2.34,0.186],[-2.273,0.307],[-2.235,0.392],[-2.231,0.469],[-2.193,0.469],[-2.188,0.505],[-2.169,0.597],[-2.16,0.333],[-2.084,0.356],[-2.055,0.332],[-2.065,0.174],[-2.036,0.473],[-2.003,0.454],[-1.97,0.339],[-1.913,0.261],[-1.87,0.369],[-1.837,0.271],[-1.846,0.116],[-1.813,0.299],[-1.803,0.302],[-1.789,0.231],[-1.77,0.208],[-1.78,0.182],[-1.808,0.173],[-1.671,0.284],[-1.609,0.284],[-1.628,0.235]];

// Tick values
const p1XTicks = [-4,-2,0,2,4], p1YTicks = [0,-0.5,-1,-1.5];
const p2XTicks = [-400,-200,0,200,400], p2YTicks = [-400,-200,0,200,400];
const p3XTicks = [-1,-0.5,0,0.5,1], p3YTicks = [-1,-0.5,0,0.5,1];
const p4XTicks = [10,25,50], p4XMinor = [6,7,8,9,20,30,40], p4YTicks = [0,0.2,0.4,0.6,0.8,1.0];
const p5XTicks = [-3,-2,-1,0], p5YTicks = [0,0.5,1,1.5];
const p6XTicks = [-3,-2,-1,0], p6YTicks = [-0.2,0,0.2,0.4,0.6];

// ---------------- RENDERING ----------------
const FONT = '"Liberation Sans", Arial, "DejaVu Sans", sans-serif';
const GRAY = '#bdbdbd', MAG = '#ff00ff', FRAME = '#4a4a4a', TXT = '#111';
const wrap = document.getElementById('wrap');
const pts = a => a.map(p => ({x: p[0], y: p[1]}));
const minus = s => s.replace('-', '\u2212');
const fInt = v => minus(String(Math.round(v)));
const f1 = v => minus((Math.abs(v) < 1e-9 ? 0 : v).toFixed(1));
function minors(min, max, step) {
  const out = [];
  for (let k = Math.ceil(min / step - 1e-9); k <= Math.floor(max / step + 1e-9); k++) out.push(k * step);
  return out;
}

function drawRich(ctx, segs, x, y, rot, size, align) {
  const small = size * 0.7;
  const fnt = s => (s.it ? 'italic ' : '') + ((s.sub || s.sup) ? small : size) + 'px ' + FONT;
  let w = 0;
  for (const s of segs) { ctx.font = fnt(s); w += ctx.measureText(s.t).width; }
  ctx.save();
  ctx.translate(x, y);
  if (rot) ctx.rotate(rot);
  ctx.fillStyle = TXT; ctx.textBaseline = 'alphabetic'; ctx.textAlign = 'left';
  let cx = align === 'left' ? 0 : -w / 2;
  const base = size * 0.36;
  for (const s of segs) {
    ctx.font = fnt(s);
    const dy = s.sub ? size * 0.22 : s.sup ? -size * 0.42 : 0;
    ctx.fillText(s.t, cx, base + dy);
    cx += ctx.measureText(s.t).width;
  }
  ctx.restore();
}

const decor = {
  id: 'decor',
  afterDraw(chart, args, o) {
    const {ctx, chartArea: a} = chart;
    const xs = chart.scales.x, ys = chart.scales.y;
    ctx.save();
    ctx.strokeStyle = FRAME; ctx.lineWidth = 1;
    const L = Math.round(a.left) + 0.5, R = Math.round(a.right) - 0.5, T = Math.round(a.top) + 0.5, B = Math.round(a.bottom) - 0.5;
    ctx.strokeRect(L, T, R - L, B - T);
    ctx.beginPath();
    const xt = (vals, len) => vals.forEach(v => {
      if (v < xs.min - 1e-9 || v > xs.max + 1e-9) return;
      const p = Math.round(xs.getPixelForValue(v)) + 0.5;
      ctx.moveTo(p, B); ctx.lineTo(p, B - len); ctx.moveTo(p, T); ctx.lineTo(p, T + len);
    });
    const yt = (vals, len) => vals.forEach(v => {
      if (v < ys.min - 1e-9 || v > ys.max + 1e-9) return;
      const p = Math.round(ys.getPixelForValue(v)) + 0.5;
      ctx.moveTo(L, p); ctx.lineTo(L + len, p); ctx.moveTo(R, p); ctx.lineTo(R - len, p);
    });
    xt(o.xMajor, 4); xt(o.xMinor, 2.2); yt(o.yMajor, 4); yt(o.yMinor, 2.2);
    ctx.stroke();
    ctx.restore();
    if (o.xTitle) drawRich(ctx, o.xTitle, o.xTitlePos[0], o.xTitlePos[1], 0, 16);
    if (o.yTitle) drawRich(ctx, o.yTitle, o.yTitlePos[0], o.yTitlePos[1], -Math.PI / 2, 16);
    if (o.supTitle) drawRich(ctx, [{t: o.supTitle}], 415, 12, 0, 16);
    if (o.legend) {
      const g = o.legend;
      ctx.save();
      ctx.fillStyle = 'rgba(255,255,255,0.85)'; ctx.strokeStyle = '#cfcfcf'; ctx.lineWidth = 1;
      ctx.beginPath();
      if (ctx.roundRect) ctx.roundRect(g.x + 0.5, g.y + 0.5, g.w, g.h, 2.5); else ctx.rect(g.x + 0.5, g.y + 0.5, g.w, g.h);
      ctx.fill(); ctx.stroke();
      ctx.strokeStyle = MAG; ctx.lineWidth = 1.2; ctx.setLineDash([3, 2]);
      ctx.strokeRect(g.x + 5, g.y + 5.5, 20, 7);
      ctx.restore();
      drawRich(ctx, g.text, g.x + 33.5, g.y + 9.5, 0, 10.5, 'left');
    }
  }
};

function makeChart(c) {
  const cv = document.createElement('canvas');
  cv.width = 830; cv.height = 520;
  wrap.appendChild(cv);
  const W = 40, H = 20;
  const tickFont = {family: FONT, size: 9.5};
  return new Chart(cv, {
    type: 'scatter',
    data: {datasets: c.datasets},
    options: {
      responsive: false, animation: false, devicePixelRatio: 1, events: [],
      layout: {padding: {left: c.box[0] - W, right: 830 - c.box[1], top: c.box[2], bottom: 520 - c.box[3] - H}},
      plugins: {legend: {display: false}, tooltip: {enabled: false}, decor: c.decor},
      scales: {
        x: {
          type: c.xType || 'linear', min: c.xr[0], max: c.xr[1],
          grid: {display: false, drawTicks: false}, border: {display: false},
          ticks: {font: tickFont, color: '#333', padding: 3, maxRotation: 0, autoSkip: false, callback: v => c.xFmt(v)},
          afterBuildTicks: s => { s.ticks = c.decor.xMajor.map(v => ({value: v})); },
          afterFit: s => { s.height = H; }
        },
        y: {
          type: 'linear', min: c.yr[0], max: c.yr[1],
          grid: {display: false, drawTicks: false}, border: {display: false},
          ticks: {font: tickFont, color: '#333', padding: 3, autoSkip: false, callback: v => c.yFmt(v)},
          afterBuildTicks: s => { s.ticks = c.decor.yMajor.map(v => ({value: v})); },
          afterFit: s => { s.width = W; }
        }
      }
    },
    plugins: [decor]
  });
}

const grayDs = arr => ({data: pts(arr), pointRadius: 1.35, pointBorderWidth: 0, pointBackgroundColor: GRAY, pointStyle: 'circle'});
const magDs = arr => ({data: pts(arr), pointRadius: 2, pointBorderWidth: 0, pointBackgroundColor: MAG});
const histPts = vals => feEdges.map((e, i) => ({x: e, y: i < vals.length ? vals[i] : vals[vals.length - 1]}));

const R1T = 31.5, R1B = 236.5, R2T = 277.5, R2B = 483.3;
const C1 = [48, 266], C2 = [327, 544], C3 = [604.5, 822];

// Panel 1
makeChart({
  box: [C1[0], C1[1], R1T, R1B], xr: [-4.5, 4.5], yr: [-1.75, 0], xFmt: fInt, yFmt: f1,
  datasets: [
    magDs(p1Sel),
    {data: [{x: p1BoxLz[0], y: p1BoxE[0]}, {x: p1BoxLz[1], y: p1BoxE[0]}, {x: p1BoxLz[1], y: p1BoxE[1]}, {x: p1BoxLz[0], y: p1BoxE[1]}, {x: p1BoxLz[0], y: p1BoxE[0]}],
     showLine: true, borderColor: MAG, borderWidth: 1.3, borderDash: [3, 2], pointRadius: 0, fill: false},
    grayDs([].concat(p1Core, p1Core2, p1Wedge, p1Wedge2, p1Mid, p1Mid2, p1Right, p1Halo))
  ],
  decor: {
    xMajor: p1XTicks, xMinor: minors(-4.5, 4.5, 0.5), yMajor: p1YTicks, yMinor: minors(-1.75, 0, 0.1),
    xTitle: [{t: 'L', it: 1}, {t: 'z', it: 1, sub: 1}, {t: ' [10'}, {t: '3', sup: 1}, {t: ' kpc km s'}, {t: '\u22121', sup: 1}, {t: ']'}],
    xTitlePos: [157, 256],
    yTitle: [{t: 'E', it: 1}, {t: 'tot', sub: 1}, {t: ' [10'}, {t: '5', sup: 1}, {t: ' km'}, {t: '2', sup: 1}, {t: ' s'}, {t: '\u22122', sup: 1}, {t: ']'}],
    yTitlePos: [17, 140],
    supTitle: 'Thamnos'
  }
});

// Panel 2
makeChart({
  box: [C2[0], C2[1], R1T, R1B], xr: [-470, 470], yr: [-475, 475], xFmt: fInt, yFmt: fInt,
  datasets: [magDs(p2Sel), grayDs([].concat(p2Band, p2Dense, p2Low, p2Lobe, p2Up, p2Halo))],
  decor: {
    xMajor: p2XTicks, xMinor: minors(-470, 470, 50), yMajor: p2YTicks, yMinor: minors(-475, 475, 50),
    xTitle: [{t: 'V', it: 1}, {t: 'r', sub: 1}, {t: ' [km s'}, {t: '\u22121', sup: 1}, {t: ']'}],
    xTitlePos: [435, 256],
    yTitle: [{t: 'V', it: 1}, {t: '\u03d5', sub: 1}, {t: ' [km s'}, {t: '\u22121', sup: 1}, {t: ']'}],
    yTitlePos: [288, 133]
  }
});

// Panel 3
makeChart({
  box: [C3[0], C3[1], R1T, R1B], xr: [-1.25, 1.25], yr: [-1.25, 1.25], xFmt: f1, yFmt: f1,
  datasets: [magDs(p3Sel), grayDs([].concat(p3Edge, p3Bottom, p3Left, p3Disc, p3UpRight, p3LowRight))],
  decor: {
    xMajor: p3XTicks, xMinor: minors(-1.25, 1.25, 0.1), yMajor: p3YTicks, yMinor: minors(-1.25, 1.25, 0.1),
    xTitle: [{t: 'J', it: 1}, {t: '\u03d5', sub: 1}, {t: '/'}, {t: 'J', it: 1}, {t: 'tot', sub: 1}],
    xTitlePos: [713, 256],
    yTitle: [{t: '('}, {t: 'J', it: 1}, {t: 'z', it: 1, sub: 1}, {t: ' \u2212 '}, {t: 'J', it: 1}, {t: 'R', sub: 1}, {t: ')/'}, {t: 'J', it: 1}, {t: 'tot', sub: 1}],
    yTitlePos: [571, 134]
  }
});

// Panel 4
makeChart({
  box: [C1[0], C1[1], R2T, R2B], xType: 'logarithmic', xr: [6, 50], yr: [-0.05, 1.05], xFmt: v => String(v), yFmt: f1,
  datasets: [magDs(p4Sel), grayDs([].concat(p4Band, p4Band2, p4Inner, p4Mid, p4Low, p4Outer))],
  decor: {
    xMajor: p4XTicks, xMinor: p4XMinor, yMajor: p4YTicks, yMinor: minors(-0.05, 1.05, 0.05),
    xTitle: [{t: 'r'}, {t: 'gal', sub: 1}, {t: ' [kpc]'}],
    xTitlePos: [157, 504],
    yTitle: [{t: 'Eccentricity'}],
    yTitlePos: [19, 378]
  }
});

// Panel 5
makeChart({
  box: [C2[0], C2[1], R2T, R2B], xr: [-3, 0.5], yr: [0, 1.9], xFmt: fInt, yFmt: f1,
  datasets: [
    {data: histPts(histSel), showLine: true, stepped: true, borderColor: MAG, borderWidth: 2.6, pointRadius: 0, fill: false, clip: {left: 0, right: 0, top: 3, bottom: 3}},
    {data: histPts(histElz), showLine: true, stepped: true, borderColor: MAG, borderWidth: 1.2, borderDash: [3.5, 2], pointRadius: 0, fill: false, clip: {left: 0, right: 0, top: 3, bottom: 3}},
    {data: [{x: feMean, y: 0}, {x: feMean, y: 1.9}], showLine: true, borderColor: MAG, borderWidth: 1.1, borderDash: [4, 2], pointRadius: 0, fill: false},
    {data: histPts(histAll), showLine: true, stepped: true, borderColor: '#b4b4b4', borderWidth: 1.8, pointRadius: 0, fill: false, clip: {left: 0, right: 0, top: 3, bottom: 3}}
  ],
  decor: {
    xMajor: p5XTicks, xMinor: minors(-3, 0.5, 0.2), yMajor: p5YTicks, yMinor: minors(0, 1.9, 0.1),
    xTitle: [{t: '[Fe/H]'}], xTitlePos: [435, 504],
    yTitle: [{t: 'Norm. Freq.'}], yTitlePos: [300, 378],
    legend: {x: 441.5, y: 283.5, w: 96.5, h: 19, text: [{t: 'only E-L'}, {t: 'z', sub: 1}, {t: ' cut'}]}
  }
});

// Panel 6
makeChart({
  box: [C3[0], C3[1], R2T, R2B], xr: [-3.1, 0], yr: [-0.2, 0.6], xFmt: fInt, yFmt: f1,
  datasets: [magDs(p6Sel), grayDs([].concat(p6Main, p6Main2, p6Hi, p6Hi2, p6Rich, p6Tail, p6Poor, p6Out))],
  decor: {
    xMajor: p6XTicks, xMinor: minors(-3.1, 0, 0.2), yMajor: p6YTicks, yMinor: minors(-0.2, 0.6, 0.05),
    xTitle: [{t: '[Fe/H]'}], xTitlePos: [713, 504],
    yTitle: [{t: '[\u03b1/Fe]'}], yTitlePos: [571, 382]
  }
});
</script></body></html>
